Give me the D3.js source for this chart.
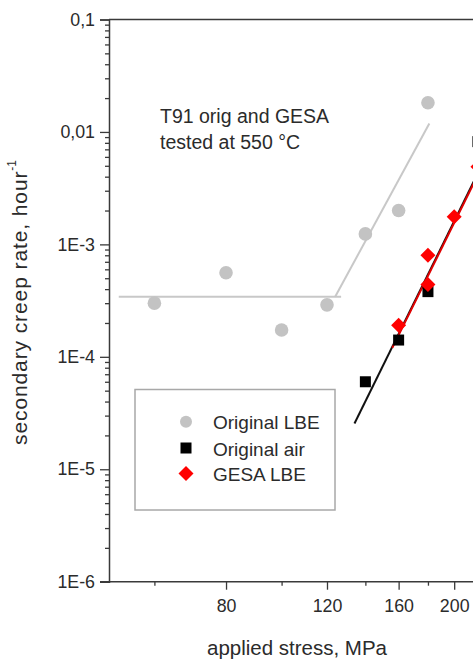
<!DOCTYPE html>
<html>
<head>
<meta charset="utf-8">
<script src="https://cdn.jsdelivr.net/npm/d3@7/dist/d3.min.js"></script>
<style>
  html, body { margin: 0; padding: 0; background: #fff; }
  svg { display: block; }
  text { font-family: "Liberation Sans", Arial, Helvetica, sans-serif; fill: #2b2b2b; }
</style>
</head>
<body>
<svg id="chart" width="473" height="660"></svg>
<script>
// ---- data: T91 creep tests at 550 °C ----
const lbeStress  = [60, 80, 100, 120, 140, 160, 180];
const lbeRate    = [3.0e-4, 5.6e-4, 1.73e-4, 2.9e-4, 1.24e-3, 2.0e-3, 0.0182];

const airStress  = [140, 160, 180, 220];
const airRate    = [6.0e-5, 1.41e-4, 3.8e-4, 8.2e-3];

const gesaStress = [160, 180, 180, 200, 220];
const gesaRate   = [1.91e-4, 4.4e-4, 8.0e-4, 1.76e-3, 4.9e-3];

// fitted trend lines
const lbeFlatStress  = [52, 127];
const lbeFlatRate    = [3.42e-4, 3.42e-4];
const lbeSlopeStress = [124, 181];
const lbeSlopeRate   = [3.42e-4, 0.0119];
const airFitStress   = [134, 220];
const airFitRate     = [2.55e-5, 4.3e-3];
const gesaFitStress  = [156, 220];
const gesaFitRate    = [1.2e-4, 4.15e-3];

// axes
const xMajorTicks = [80, 120, 160, 200];
const xMinorTicks = [60, 100, 140, 180, 220];
const yMajorTicks = [1e-6, 1e-5, 1e-4, 1e-3, 1e-2, 1e-1];
const yTickLabels = ["1E-6", "1E-5", "1E-4", "1E-3", "0,01", "0,1"];

const legendLabels = ["Original LBE", "Original air", "GESA LBE"];
const annotationLines = ["T91 orig and GESA", "tested at 550 °C"];

(function draw() {
  const svg = d3.select("#chart");
  const plotLeft = 109, plotTop = 19.5, plotBottom = 581.7;
  const x = d3.scaleLog().domain([50, 300]).range([plotLeft, plotLeft + 249 * Math.log(6)]);
  const y = d3.scaleLog().domain([1e-6, 0.1]).range([plotBottom, plotTop]);
  const axisColor = "#3a3a3a";
  const font = "'Liberation Sans', Arial, sans-serif";

  // minor y ticks 2..9 per decade
  const yMinorTicks = [];
  for (let e = -6; e < -1; e++) {
    for (let m = 2; m <= 9; m++) yMinorTicks.push(m * Math.pow(10, e));
  }

  // frame: top line
  svg.append("line")
    .attr("x1", plotLeft).attr("x2", 600).attr("y1", plotTop).attr("y2", plotTop)
    .attr("stroke", axisColor).attr("stroke-width", 1.5);

  // y axis
  const gy = svg.append("g").attr("transform", `translate(${plotLeft},0)`);
  gy.call(d3.axisLeft(y).tickValues(yMajorTicks).tickSize(9)
    .tickFormat((d, i) => yTickLabels[i]).tickPadding(5));
  const gyMinor = svg.append("g").attr("transform", `translate(${plotLeft},0)`);
  gyMinor.call(d3.axisLeft(y).tickValues(yMinorTicks).tickSize(4).tickFormat(""));
  gyMinor.select(".domain").remove();

  // x axis
  const gx = svg.append("g").attr("transform", `translate(0,${plotBottom})`);
  gx.call(d3.axisBottom(x).tickValues(xMajorTicks).tickSize(8)
    .tickFormat(d3.format("d")).tickPadding(10));
  const gxMinor = svg.append("g").attr("transform", `translate(0,${plotBottom})`);
  gxMinor.call(d3.axisBottom(x).tickValues(xMinorTicks).tickSize(4).tickFormat(""));
  gxMinor.select(".domain").remove();
  gx.select(".domain").attr("d", `M${plotLeft - 9},0H600`);

  svg.selectAll(".domain").attr("stroke", axisColor).attr("stroke-width", 1.5);
  svg.selectAll(".tick line").attr("stroke", axisColor).attr("stroke-width", 1.3);
  svg.selectAll(".tick text").attr("font-size", 17.8).attr("fill", "#2b2b2b")
    .style("font-family", font);

  // axis titles
  svg.append("text")
    .attr("x", 297).attr("y", 655).attr("text-anchor", "middle")
    .attr("font-size", 20.5).text("applied stress, MPa");

  const yTitle = svg.append("text")
    .attr("transform", "translate(27,445) rotate(-90)")
    .attr("text-anchor", "start").attr("font-size", 21)
    .attr("letter-spacing", 0.9);
  yTitle.append("tspan").text("secondary creep rate, hour");
  yTitle.append("tspan").attr("font-size", 12).attr("dy", -11).attr("letter-spacing", 0).text("-1");

  // annotation
  annotationLines.forEach((t, i) => {
    svg.append("text").attr("x", 160).attr("y", 123 + i * 25.5)
      .attr("font-size", 19.5).text(t);
  });

  // ---- data marks ----
  const line = d3.line().x(d => x(d[0])).y(d => y(d[1]));
  const pairs = (s, r) => s.map((v, i) => [v, r[i]]);

  const gray = "#c3c3c3";
  svg.append("path").datum(pairs(lbeFlatStress, lbeFlatRate))
    .attr("d", line).attr("fill", "none").attr("stroke", "#c8c8c8").attr("stroke-width", 2);
  svg.append("path").datum(pairs(lbeSlopeStress, lbeSlopeRate))
    .attr("d", line).attr("fill", "none").attr("stroke", "#c8c8c8").attr("stroke-width", 2);

  svg.append("g").selectAll("circle").data(pairs(lbeStress, lbeRate)).join("circle")
    .attr("cx", d => x(d[0])).attr("cy", d => y(d[1])).attr("r", 6.8).attr("fill", gray);

  svg.append("path").datum(pairs(airFitStress, airFitRate))
    .attr("d", line).attr("fill", "none").attr("stroke", "#111").attr("stroke-width", 2);
  svg.append("path").datum(pairs(gesaFitStress, gesaFitRate))
    .attr("d", line).attr("fill", "none").attr("stroke", "#e00000").attr("stroke-width", 2);

  const sq = 11;
  svg.append("g").selectAll("rect").data(pairs(airStress, airRate)).join("rect")
    .attr("x", d => x(d[0]) - sq / 2).attr("y", d => y(d[1]) - sq / 2)
    .attr("width", sq).attr("height", sq).attr("fill", "#000");

  const diamond = r => `M0,${-r}L${r},0L0,${r}L${-r},0Z`;
  svg.append("g").selectAll("path").data(pairs(gesaStress, gesaRate)).join("path")
    .attr("transform", d => `translate(${x(d[0])},${y(d[1])})`)
    .attr("d", diamond(7.5)).attr("fill", "#ff0000");

  // ---- legend ----
  svg.append("rect").attr("x", 135).attr("y", 389.5).attr("width", 200).attr("height", 120.5)
    .attr("fill", "#fff").attr("stroke", "#a8a8a8").attr("stroke-width", 1.5);
  const lg = svg.append("g");
  const rowY = [421.7, 448, 473.5];
  lg.append("circle").attr("cx", 186).attr("cy", rowY[0]).attr("r", 6).attr("fill", gray);
  lg.append("rect").attr("x", 186 - 5.5).attr("y", rowY[1] - 5.5).attr("width", 11).attr("height", 11).attr("fill", "#000");
  lg.append("path").attr("transform", `translate(186,${rowY[2]})`).attr("d", diamond(7.5)).attr("fill", "#ff0000");
  legendLabels.forEach((t, i) => {
    lg.append("text").attr("x", 213).attr("y", rowY[i] + 7.5).attr("font-size", 19).text(t);
  });
})();
</script>
</body>
</html>
